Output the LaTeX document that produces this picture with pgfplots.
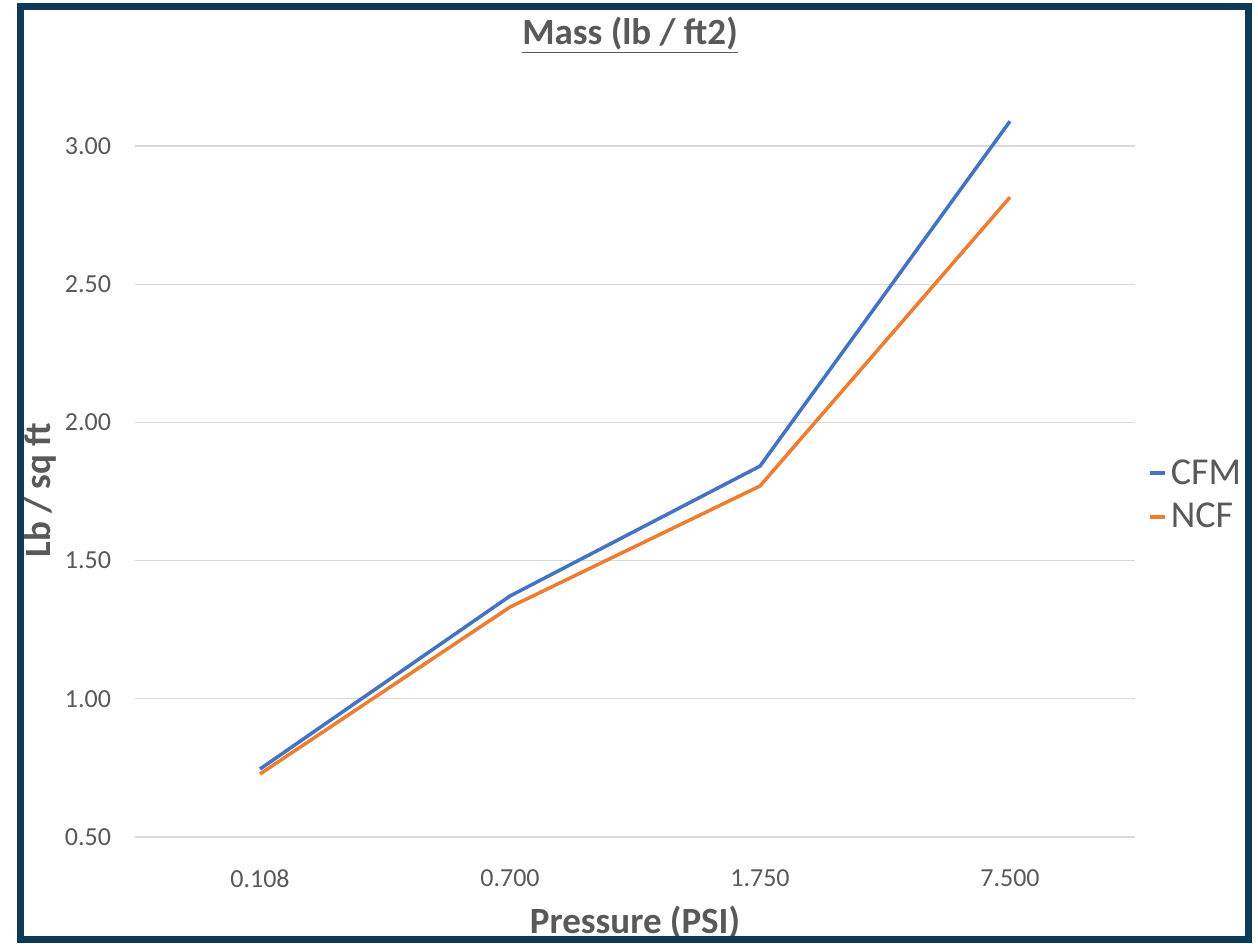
\documentclass[border=0pt]{standalone}
\usepackage{pgfplots}
\pgfplotsset{compat=1.18}
\usepackage{fontspec}
\setmainfont{Carlito}
\definecolor{cfm}{HTML}{4472C4}
\definecolor{ncf}{HTML}{ED7D31}
\definecolor{txt}{HTML}{595959}
\definecolor{framec}{RGB}{14,58,87}
\definecolor{gridc}{HTML}{D9D9D9}
\begin{document}
\begin{tikzpicture}
\useasboundingbox (0,0) rectangle (629pt,471.5pt);
\fill[white] (0,0) rectangle (629pt,471.5pt);
\begin{axis}[
  at={(67.5pt,53pt)}, anchor=south west,
  scale only axis, width=500pt, height=373.1pt,
  xmin=-0.5, xmax=3.5, ymin=0.5, ymax=3.2,
  axis line style={draw=none},
  xtick={0,1,2,3}, xticklabels={0.108,0.700,1.750,7.500},
  ytick={0.5,1,1.5,2,2.5,3},
  ymajorgrids, major grid style={gridc, line width=0.6pt},
  major tick length=0,
  tick label style={font=\fontsize{13}{15}\selectfont, text=txt},
  /pgf/number format/assume math mode=true,
  y tick label style={/pgf/number format/.cd, fixed, fixed zerofill, precision=2, /tikz/.cd, xshift=-8.5pt},
  x tick label style={yshift=-13pt},
  title={\underline{Mass (lb / ft2)}},
  title style={at={(axis description cs:0.495,1.058)}, anchor=center, font=\fontsize{18.5}{22}\selectfont\bfseries, text=txt},
  xlabel={Pressure (PSI)},
  xlabel style={at={(axis description cs:0.5,-0.114)}, anchor=center, font=\fontsize{18.5}{22}\selectfont\bfseries, text=txt},
  ylabel={Lb / sq ft},
  ylabel style={at={(axis description cs:-0.095,0.465)}, anchor=center, rotate=0, font=\fontsize{18.5}{22}\selectfont\bfseries, text=txt},
  legend style={at={(axis description cs:1.013,0.512)}, anchor=north west, draw=none, fill=none,
    font=\fontsize{19}{22}\selectfont, text=txt, row sep=4pt, inner sep=0pt,
    /tikz/every even column/.append style={column sep=0pt}},
  legend cell align=left,
  legend image code/.code={\draw[#1, line width=1.75pt] (0pt,0pt) -- (7.5pt,0pt);},
]
\addplot[cfm, line width=1.75pt] coordinates {(0,0.746) (1,1.372) (2,1.842) (3,3.09)};
\addlegendentry{CFM}
\addplot[ncf, line width=1.75pt] coordinates {(0,0.728) (1,1.332) (2,1.77) (3,2.815)};
\addlegendentry{NCF}
\end{axis}
\draw[framec, line width=3.5pt] (10.25pt,2pt) rectangle (624.25pt,468.25pt);
\end{tikzpicture}
\end{document}
